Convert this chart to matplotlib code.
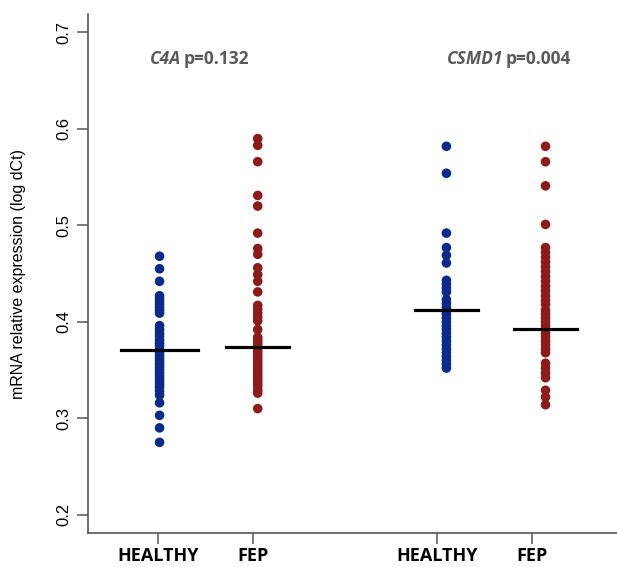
import numpy as np
import matplotlib
matplotlib.use("Agg")
import matplotlib.pyplot as plt

# values (log dCt)
c4a_healthy = [0.468, 0.455, 0.442, 0.427, 0.424, 0.421, 0.418, 0.415, 0.412, 0.409,
               0.396, 0.392, 0.388, 0.385, 0.381, 0.378, 0.375, 0.371, 0.368, 0.365,
               0.362, 0.359, 0.356, 0.353, 0.350, 0.347, 0.344, 0.341, 0.338, 0.335,
               0.332, 0.328, 0.324, 0.316, 0.303, 0.290, 0.275]
c4a_fep = [0.590, 0.583, 0.566, 0.531, 0.520, 0.492, 0.476, 0.470, 0.456, 0.449,
           0.442, 0.431, 0.417, 0.413, 0.409, 0.405, 0.401, 0.392, 0.384, 0.381,
           0.378, 0.375, 0.372, 0.369, 0.366, 0.363, 0.360, 0.357, 0.354, 0.351,
           0.348, 0.345, 0.342, 0.339, 0.336, 0.333, 0.329, 0.326, 0.310]
csmd1_healthy = [0.582, 0.554, 0.492, 0.477, 0.469, 0.461, 0.443, 0.439, 0.435, 0.431,
                 0.423, 0.419, 0.415, 0.411, 0.408, 0.404, 0.400, 0.396, 0.392, 0.388,
                 0.384, 0.380, 0.376, 0.372, 0.368, 0.364, 0.360, 0.356, 0.352]
csmd1_fep = [0.582, 0.566, 0.541, 0.501, 0.477, 0.472, 0.467, 0.462, 0.457, 0.452,
             0.447, 0.442, 0.437, 0.432, 0.427, 0.422, 0.418, 0.412, 0.408, 0.404,
             0.400, 0.396, 0.392, 0.388, 0.384, 0.380, 0.376, 0.372, 0.368, 0.357,
             0.352, 0.347, 0.342, 0.329, 0.322, 0.314]
group_means = [0.371, 0.374, 0.412, 0.393]
group_labels = ['HEALTHY', 'FEP', 'HEALTHY', 'FEP']
gene_names = ['C4A', 'CSMD1']
p_values = ['p=0.132', 'p=0.004']

blue = '#0b2a8c'
red = '#8e1b1b'
grey_txt = '#5a5a5a'

fig = plt.figure(figsize=(6.17, 5.67), dpi=100)
ax = fig.add_axes([0.1426, 0.06, 0.8574, 0.915])

groups = [c4a_healthy, c4a_fep, csmd1_healthy, csmd1_fep]
colors = [blue, red, blue, red]
dot_x = [1.02, 2.05, 4.03, 5.07]
tick_x = [1.0, 2.0, 3.93, 4.93]
half_w = [0.40, 0.33, 0.33, 0.33]

for vals, col, x in zip(groups, colors, dot_x):
    ax.scatter(np.full(len(vals), x), vals, s=48, color=col, edgecolors='none', zorder=2)

for m, x, hw in zip(group_means, dot_x, half_w):
    ax.plot([x - hw, x + hw], [m, m], color='black', lw=2.3, zorder=3)

ax.set_xlim(0.269, 5.82)
ax.set_ylim(0.181, 0.719)
ax.set_yticks([0.2, 0.3, 0.4, 0.5, 0.6, 0.7])
ax.set_yticklabels(['0.2', '0.3', '0.4', '0.5', '0.6', '0.7'], rotation=90, va='center',
                   fontsize=12, family='Liberation Sans')
ax.set_xticks(tick_x)
ax.set_xticklabels(group_labels, fontsize=13, fontweight='bold', family='Open Sans')
ax.tick_params(axis='both', length=8, width=1.1, color='#555555')
ax.tick_params(axis='x', pad=2)
ax.tick_params(axis='y', pad=4)

for side in ['top', 'right']:
    ax.spines[side].set_visible(False)
for side in ['left', 'bottom']:
    ax.spines[side].set_color('#555555')
    ax.spines[side].set_linewidth(1.2)

ax.set_ylabel('mRNA relative expression (log dCt)', fontsize=11.5, family='Liberation Sans',
              labelpad=22)

# gene name (bold italic) followed by p-value, split at a fixed x
split_x = [1.255, 4.634]
for gene, p, x in zip(gene_names, p_values, split_x):
    ax.text(x - 0.01, 0.673, gene, ha='right', va='center', fontsize=12.5,
            fontweight='bold', style='italic', color=grey_txt, family='Open Sans')
    ax.text(x + 0.02, 0.673, p, ha='left', va='center', fontsize=12.5,
            fontweight='bold', color=grey_txt, family='Open Sans')

fig.savefig('out.png', dpi=100)
